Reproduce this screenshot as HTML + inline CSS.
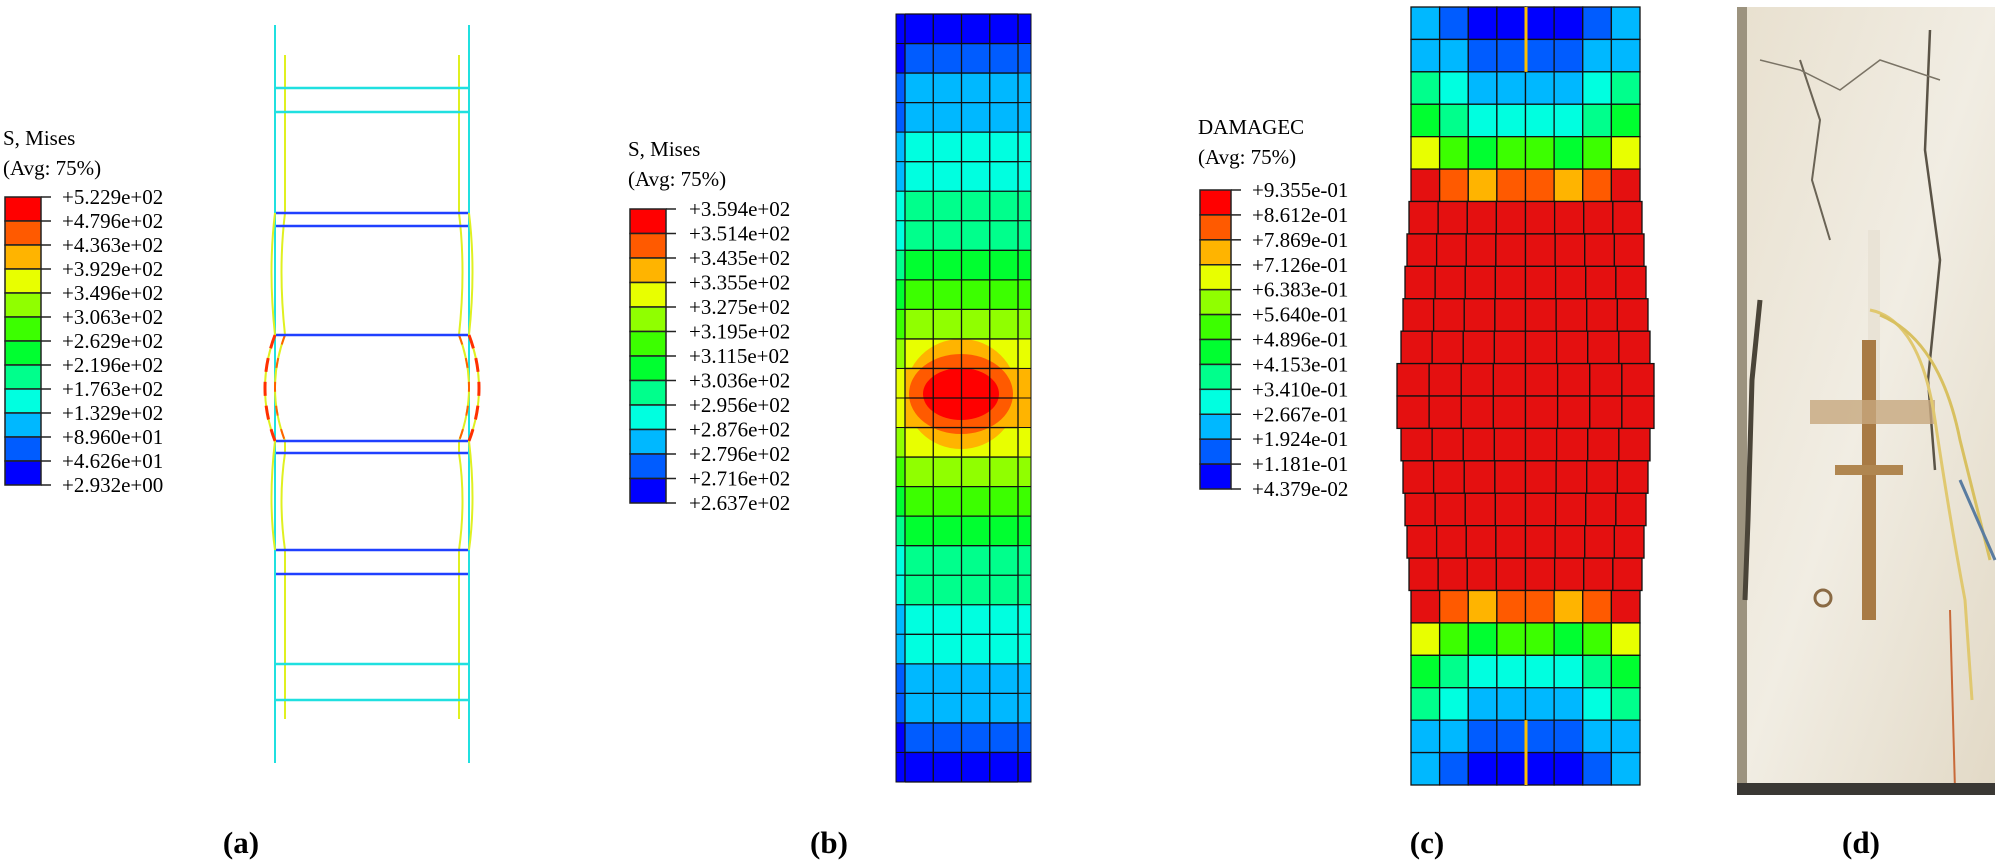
<!DOCTYPE html>
<html><head><meta charset="utf-8"><style>
html,body{margin:0;padding:0;background:#fff;}
svg{display:block;}
text{font-family:"Liberation Serif",serif;}
</style></head><body>
<svg id="fig" width="1999" height="864" viewBox="0 0 1999 864" xmlns="http://www.w3.org/2000/svg">
<g id="pa"></g>
<g id="pb"></g>
<g id="pc"></g>
<g id="pd">
  <defs>
    <linearGradient id="wall" x1="0" y1="0" x2="1" y2="1">
      <stop offset="0" stop-color="#e8e0cf"/><stop offset="0.5" stop-color="#f1ede3"/><stop offset="1" stop-color="#e2d9c6"/>
    </linearGradient>
  </defs>
  <rect x="1737" y="7" width="258" height="788" fill="url(#wall)"/>
  <rect x="1737" y="7" width="10" height="788" fill="#9c937f"/>
  <path d="M1760 300 L1752 380 L1748 520 L1745 600" stroke="#4a4438" stroke-width="5" fill="none"/>
  <path d="M1800 60 L1820 120 L1812 180 L1830 240" stroke="#6a6355" stroke-width="2" fill="none"/>
  <path d="M1930 30 L1925 150 L1940 260 L1928 380 L1935 470" stroke="#5a5346" stroke-width="2.5" fill="none"/>
  <path d="M1760 60 L1800 70 L1840 90 L1880 60 L1940 80" stroke="#7a7365" stroke-width="1.5" fill="none"/>
  <rect x="1868" y="230" width="12" height="180" fill="#e9e3d6"/>
  <rect x="1862" y="340" width="14" height="280" fill="#a87a44"/>
  <rect x="1835" y="465" width="68" height="10" fill="#b08650"/>
  <rect x="1810" y="400" width="125" height="24" fill="#c7a87e" opacity="0.8"/>
  <path d="M1870 310 Q1920 320 1935 420 Q1950 520 1965 600 L1972 700" stroke="#e0c870" stroke-width="3" fill="none"/>
  <path d="M1880 315 Q1940 340 1960 440 L1990 560" stroke="#d8c060" stroke-width="3" fill="none"/>
  <path d="M1960 480 L1995 560" stroke="#5a7ca0" stroke-width="3" fill="none"/>
  <path d="M1950 610 L1955 790" stroke="#c86a3a" stroke-width="2" fill="none"/>
  <circle cx="1823" cy="598" r="8" fill="none" stroke="#8a6a44" stroke-width="3"/>
  <rect x="1737" y="783" width="258" height="12" fill="#3a3834"/>
</g>
<g font-weight="bold" font-size="31" text-anchor="middle">
  <text x="241" y="853">(a)</text>
  <text x="829" y="853">(b)</text>
  <text x="1427" y="853">(c)</text>
  <text x="1861" y="853">(d)</text>
</g>
</svg>
<script>
const NS="http://www.w3.org/2000/svg";
const palette=['#ff0000','#ff5a00','#ffb400','#e8ff00','#90ff00','#3cff00','#00ff30','#00ff8c','#00ffe0','#00b8ff','#005cff','#0000ff'];
const labelsA=['+5.229e+02','+4.796e+02','+4.363e+02','+3.929e+02','+3.496e+02','+3.063e+02','+2.629e+02','+2.196e+02','+1.763e+02','+1.329e+02','+8.960e+01','+4.626e+01','+2.932e+00'];
const labelsB=['+3.594e+02','+3.514e+02','+3.435e+02','+3.355e+02','+3.275e+02','+3.195e+02','+3.115e+02','+3.036e+02','+2.956e+02','+2.876e+02','+2.796e+02','+2.716e+02','+2.637e+02'];
const labelsC=['+9.355e-01','+8.612e-01','+7.869e-01','+7.126e-01','+6.383e-01','+5.640e-01','+4.896e-01','+4.153e-01','+3.410e-01','+2.667e-01','+1.924e-01','+1.181e-01','+4.379e-02'];
// panel b: colour level per row (top half, mirrored)
const rowsB=[11,10,9,9,8,8,7,7,6,5,4,3,2];
// panel c: colour levels per row for 4 columns (left half, mirrored); top 6 rows
const rowsCtop=[[9,10,11,11],[9,9,10,10],[7,8,9,9],[6,7,8,8],[3,5,6,5],[0,1,2,1]];
const bulgeC=[0,0,0,0,0,0,2,4,6,8,10,14,14,10,8,6,4,2,0,0,0,0,0,0];

function el(p,tag,attrs){const e=document.createElementNS(NS,tag);for(const k in attrs)e.setAttribute(k,attrs[k]);p.appendChild(e);return e;}

function legend(g,x,y,title,labels,barX,barY,barW,barH,labX,fs){
  const lg=el(g,'g',{});
  
  
  const t1=el(lg,'text',{x:x,y:y,'font-size':fs});t1.textContent=title;
  
  
  const t2=el(lg,'text',{x:x,y:y+30,'font-size':fs});t2.textContent='(Avg: 75%)';
  
  
  const n=labels.length-1,h=barH/n;
  for(let i=0;i<n;i++){
    const r=el(lg,'rect',{x:barX,y:barY+i*h,width:barW,height:h,fill:palette[i],stroke:'#222','stroke-width':1.5});
    
    
  }
  for(let i=0;i<=n;i++){
    const yy=barY+i*h;
    el(lg,'line',{x1:barX+barW,y1:yy,x2:barX+barW+10,y2:yy,stroke:'#222','stroke-width':1.5});
    const t=el(lg,'text',{x:labX,y:yy+7,'font-size':fs});t.textContent=labels[i];
    
    
  }
}

// ---------- Panel A ----------
const pa=document.getElementById('pa');
legend(pa,3,145,'S, Mises',labelsA,5,197,36,288,62,21);
const cyan='#20e0e0',blue='#2040ff',yel='#e0f020',grn='#60e040';
// verticals
[[275,25,763,cyan],[469,25,763,cyan]].forEach(v=>el(pa,'line',{x1:v[0],y1:v[1],x2:v[0],y2:v[2],stroke:v[3],'stroke-width':2}));
el(pa,'path',{d:'M285 55 L285 213 Q278 270 285 335 Q265 388 285 441 L285 453 Q278 500 285 550 L285 719',stroke:yel,'stroke-width':2,fill:'none'});
el(pa,'path',{d:'M459 55 L459 213 Q466 270 459 335 Q479 388 459 441 L459 453 Q466 500 459 550 L459 719',stroke:yel,'stroke-width':2,fill:'none'});
el(pa,'path',{d:'M275 213 Q268 270 275 335 Q255 388 275 441 Q268 500 275 550',stroke:yel,'stroke-width':2,fill:'none'});
el(pa,'path',{d:'M469 213 Q476 270 469 335 Q489 388 469 441 Q476 500 469 550',stroke:yel,'stroke-width':2,fill:'none'});
el(pa,'path',{d:'M275 335 Q255 388 275 441 M469 335 Q489 388 469 441',stroke:'#ff3000','stroke-width':3,fill:'none','stroke-dasharray':'14 10'});
el(pa,'path',{d:'M285 335 Q265 388 285 441 M459 335 Q479 388 459 441',stroke:'#ff6000','stroke-width':2,fill:'none','stroke-dasharray':'10 14'});
const platesA=[[88,cyan],[112,cyan],[213,blue],[226,blue],[335,blue],[441,blue],[453,blue],[550,blue],[574,blue],[664,cyan],[700,cyan]];
platesA.forEach(p=>{const l=el(pa,'line',{x1:276,y1:p[0],x2:468,y2:p[0],stroke:p[1],'stroke-width':2.5});
  
  });

// ---------- Panel B ----------
const pb=document.getElementById('pb');
legend(pb,628,156,'S, Mises',labelsB,630,209,36,294,689,21);
const bTop=14,bBot=782,bL=905,bR=1018,nRowsB=26,rhB=(bBot-bTop)/nRowsB;
for(let i=0;i<nRowsB;i++){
  const lvl=i<13?rowsB[i]:rowsB[25-i];
  const r=el(pb,'rect',{x:bL,y:bTop+i*rhB,width:bR-bL,height:rhB+0.5,fill:palette[lvl]});
  
  
  el(pb,'rect',{x:896,y:bTop+i*rhB,width:9,height:rhB,fill:palette[Math.min(11,lvl+1)],stroke:'#111','stroke-width':1});
  el(pb,'rect',{x:1018,y:bTop+i*rhB,width:13,height:rhB,fill:palette[Math.min(11,lvl)],stroke:'#111','stroke-width':1});
}
el(pb,'ellipse',{cx:961,cy:394,rx:56,ry:55,fill:palette[2]});
el(pb,'ellipse',{cx:961,cy:394,rx:52,ry:40,fill:palette[1]});
el(pb,'ellipse',{cx:961,cy:394,rx:38,ry:26,fill:palette[0]});
for(let i=0;i<=nRowsB;i++) el(pb,'line',{x1:bL,y1:bTop+i*rhB,x2:bR,y2:bTop+i*rhB,stroke:'#111','stroke-width':1.3});
for(let j=0;j<=4;j++){const x=bL+j*(bR-bL)/4;el(pb,'line',{x1:x,y1:bTop,x2:x,y2:bBot,stroke:'#111','stroke-width':1.3});}

// ---------- Panel C ----------
const pc=document.getElementById('pc');
legend(pc,1198,134,'DAMAGEC',labelsC,1200,190,31,299,1252,21);
const cL=1411,cR=1640,cTop=7,cBot=785,nRowsC=24,nColC=8,rhC=(cBot-cTop)/nRowsC,cwC=(cR-cL)/nColC;
for(let i=0;i<nRowsC;i++){
  let half;
  if(i<6) half=rowsCtop[i]; else if(i>=18) half=rowsCtop[23-i]; else half=[0,0,0,0];
  const b=bulgeC[i],w=(cR-cL+2*b)/nColC,x0=cL-b;
  for(let j=0;j<nColC;j++){
    const lvl=j<4?half[j]:half[7-j];
    const fill=lvl===0?'#e41010':palette[lvl];
    const r=el(pc,'rect',{x:x0+j*w,y:cTop+i*rhC,width:w,height:rhC,fill:fill,stroke:'#111','stroke-width':1.3});
    
    
  }
}
el(pc,'line',{x1:1526,y1:cTop,x2:1526,y2:cTop+2*rhC,stroke:'#ffc000','stroke-width':3});
el(pc,'line',{x1:1526,y1:cBot-2*rhC,x2:1526,y2:cBot,stroke:'#ffc000','stroke-width':3});
</script>
</body></html>
